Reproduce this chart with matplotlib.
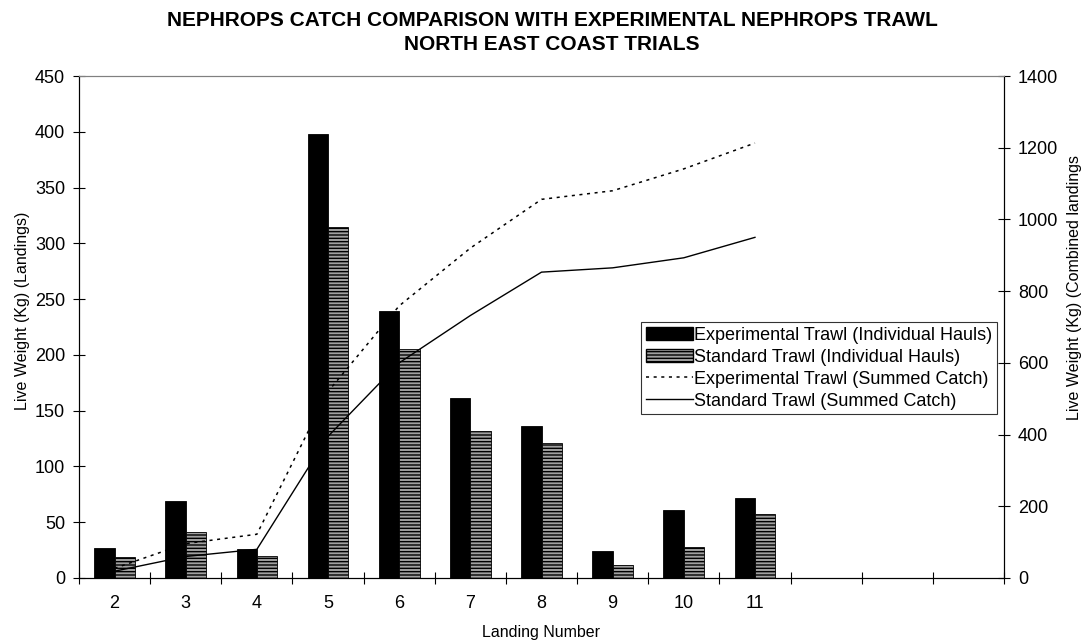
import matplotlib
matplotlib.use("Agg")
import matplotlib.pyplot as plt
import numpy as np
from matplotlib.patches import Patch
from matplotlib.lines import Line2D

plt.rcParams['font.family'] = ['Liberation Sans', 'DejaVu Sans']

landings = ["2", "3", "4", "5", "6", "7", "8", "9", "10", "11"]
n_slots = 13
exp_hauls = [27, 69, 26, 398, 239, 161, 136, 24, 61, 72]
std_hauls = [19, 41, 20, 315, 205, 132, 121, 12, 28, 57]
exp_summed = [27, 96, 122, 520, 759, 920, 1056, 1080, 1141, 1213]
std_summed = [19, 60, 80, 395, 600, 732, 853, 865, 893, 950]

W, H = 1087, 643
L, R, T, B = 79, 1004, 76, 578

fig = plt.figure(figsize=(W/100, H/100), dpi=100)
ax = fig.add_axes([L/W, 1-B/H, (R-L)/W, (B-T)/H])
ax2 = ax.twinx()

x = np.arange(len(landings))
w = 0.286
ax.bar(x - w/2, exp_hauls, w, color='black', edgecolor='black', linewidth=0.6, zorder=2)
ax.bar(x + w/2, std_hauls, w, color='#a0a0a0', edgecolor='black', hatch='-----', linewidth=0.6, zorder=2)

ax2.plot(x, exp_summed, color='black', linestyle=(0, (2, 3)), linewidth=1.1)
ax2.plot(x, std_summed, color='black', linestyle='-', linewidth=1.0)

ax.set_xlim(-0.5, n_slots - 0.5)
ax.set_ylim(0, 450)
ax2.set_ylim(0, 1400)
ax.set_yticks(np.arange(0, 451, 50))
ax2.set_yticks(np.arange(0, 1401, 200))

ax.set_xticks(np.arange(-0.5, n_slots, 1.0))
ax.set_xticklabels([])
ax.set_xticks(x, minor=True)
ax.set_xticklabels(landings, minor=True)
ax.tick_params(axis='x', which='major', direction='inout', length=8, width=0.8)
ax.tick_params(axis='x', which='minor', length=0, pad=12, labelsize=13)
ax.tick_params(axis='y', direction='inout', length=8, width=0.8, labelsize=13, pad=6)
ax2.tick_params(axis='y', direction='inout', length=8, width=0.8, labelsize=13, pad=6)

for a in (ax, ax2):
    a.spines['top'].set_color('#808080')
    a.spines['top'].set_linewidth(0.8)
    a.spines['left'].set_linewidth(0.8)
    a.spines['right'].set_linewidth(0.8)
    a.spines['bottom'].set_linewidth(0.8)

fig.text((L+R)/2/W, 1-632/H, "Landing Number", ha='center', va='center', fontsize=11.5)
fig.text(23/W, 1-311/H, "Live Weight (Kg) (Landings)", rotation=90,
         ha='center', va='center', fontsize=11.5)
fig.text(1074/W, 1-288/H, "Live Weight (Kg) (Combined landings", rotation=90,
         ha='center', va='center', fontsize=11.5)

fig.text(552/W, 1-20/H, "NEPHROPS CATCH COMPARISON WITH EXPERIMENTAL NEPHROPS TRAWL",
         ha='center', va='center', fontsize=15, fontweight='bold')
fig.text(552/W, 1-44/H, "NORTH EAST COAST TRIALS",
         ha='center', va='center', fontsize=15, fontweight='bold')

handles = [
    Patch(facecolor='black', edgecolor='black'),
    Patch(facecolor='#a0a0a0', edgecolor='black', hatch='-----'),
    Line2D([], [], color='black', linestyle=(0, (2, 3)), linewidth=1.1),
    Line2D([], [], color='black', linestyle='-', linewidth=1.0),
]
labels = ["Experimental Trawl (Individual Hauls)", "Standard Trawl (Individual Hauls)",
          "Experimental Trawl (Summed Catch)", "Standard Trawl (Summed Catch)"]
leg = ax2.legend(handles, labels, loc='upper right',
                 bbox_to_anchor=((997-L)/(R-L), 1-(322-T)/(B-T)),
                 frameon=True, fancybox=False, edgecolor='black', fontsize=13,
                 handlelength=2.6, handleheight=0.8, handletextpad=0.1, labelspacing=0.27,
                 borderpad=0.25, borderaxespad=0)
leg.get_frame().set_linewidth(0.8)

fig.savefig("out.png", dpi=100)
